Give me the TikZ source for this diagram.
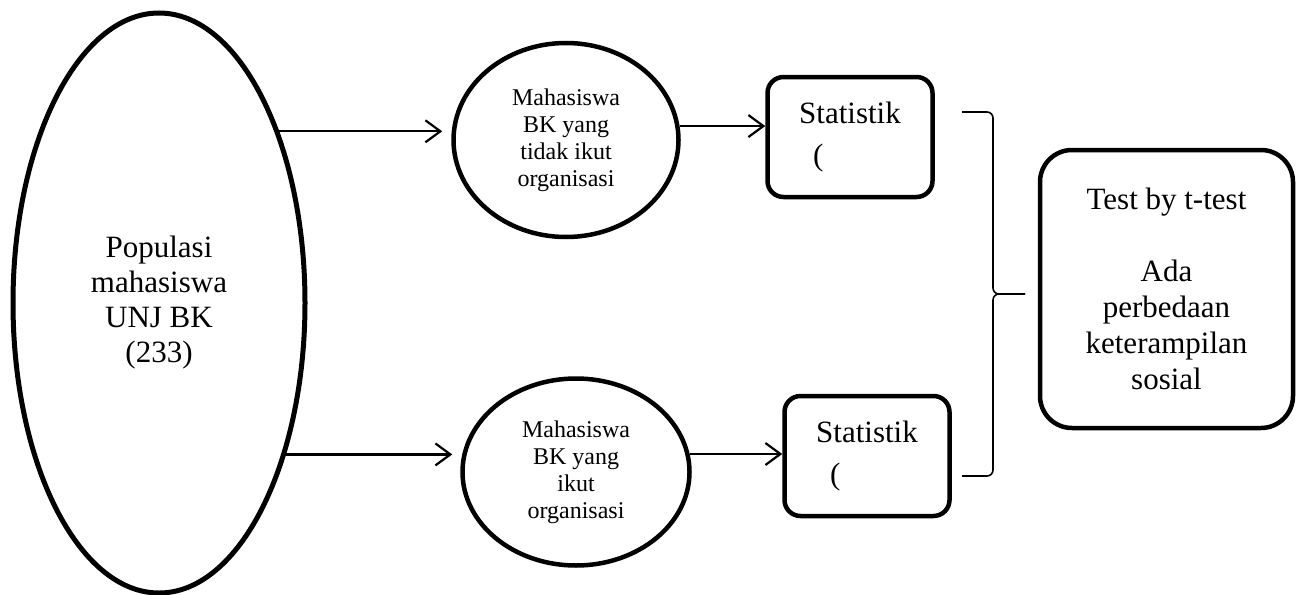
\documentclass[tikz,border=0pt]{standalone}
\usepackage{fontspec}
\setmainfont{Liberation Serif}
\usetikzlibrary{arrows.meta,shapes.geometric}

\begin{document}
\begin{tikzpicture}[x=1pt, y=-1pt,
    oval/.style={draw, ellipse, line width=4.5pt, inner sep=0pt, align=center},
    statbox/.style={draw, rounded corners=16pt, line width=4.5pt, minimum width=165pt,
      minimum height=120pt, align=left, font=\fontsize{31}{36}\selectfont},
    arr/.style={-{Straight Barb[length=15pt,width=22pt]}, line width=2.2pt}]
    \useasboundingbox (0,0) rectangle (1303,594);

    \node[oval, line width=5pt, minimum width=292pt, minimum height=580pt,
      font=\fontsize{31}{35}\selectfont] (pop) at (159,303) {Populasi\\mahasiswa\\UNJ BK\\(233)};

    \node[oval, minimum width=225pt, minimum height=194pt, font=\fontsize{24}{27}\selectfont]
      (tidak) at (566,140) {Mahasiswa\\BK yang\\tidak ikut\\organisasi};
    \node[oval, minimum width=227pt, minimum height=187pt, font=\fontsize{24}{27}\selectfont]
      (ikut) at (576,472) {Mahasiswa\\BK yang\\ikut\\organisasi};

    \node[statbox] (stat1) at (850,137) {Statistik\\[6pt]\hspace*{14pt}(};
    \node[statbox] (stat2) at (867,456) {Statistik\\[6pt]\hspace*{14pt}(};

    \node[draw, rounded corners=32pt, line width=4.5pt, minimum width=253pt, minimum height=278pt,
      align=center, font=\fontsize{31}{36}\selectfont] (ttest) at (1166.5,289)
      {Test by t-test\\[36pt]Ada\\perbedaan\\keterampilan\\sosial};

    % arrows
    \draw[arr, shorten >=9pt] (pop.55.5) -- (pop.55.5 -| tidak.west);
    \draw[arr, shorten >=8pt] (pop.-50.2) -- (pop.-50.2 -| ikut.west);
    \draw[arr] (tidak.7) -- (tidak.7 -| stat1.west);
    \draw[arr] (ikut.9) -- (ikut.9 -| stat2.west);

    % brace
    \draw[line width=1.6pt, rounded corners=6pt] (962,112) -- (993,112) -- (993,294) -- (1025,294);
    \draw[line width=1.6pt, rounded corners=6pt] (962,476) -- (993,476) -- (993,294) -- (1025,294);
\end{tikzpicture}
\end{document}
